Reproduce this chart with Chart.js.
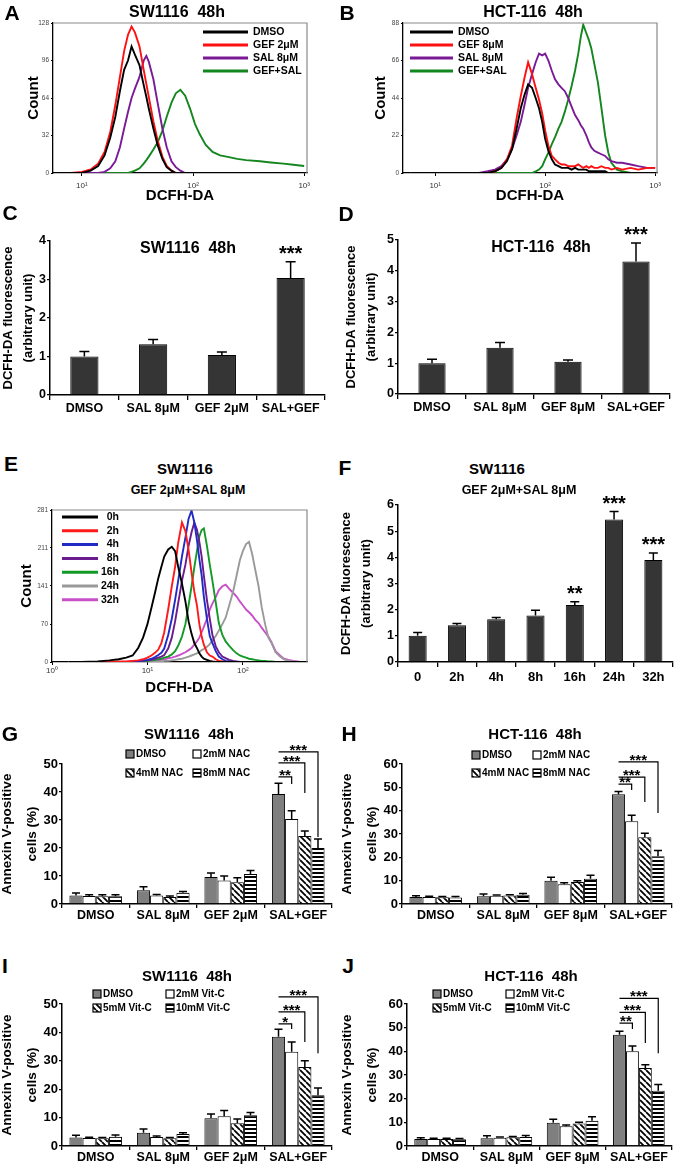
<!DOCTYPE html>
<html>
<head>
<meta charset="utf-8">
<script src="https://cdn.jsdelivr.net/npm/chart.js@4.4.1/dist/chart.umd.min.js"></script>
<style>
  body { margin: 0; background: #fff; }
  #fig { position: relative; width: 680px; height: 1168px; overflow: hidden; font-family: "Liberation Sans", Arial, sans-serif; }
  #fig canvas { position: absolute; }
  .lbl { position: absolute; transform: translate(-50%, -50%); font-weight: bold; white-space: pre; color: #000; line-height: 1; }
</style>
</head>
<body>
<div id="fig">
  <canvas id="cA" width="340" height="195" style="left:0;top:15px"></canvas>
  <canvas id="cB" width="340" height="195" style="left:340px;top:15px"></canvas>
  <canvas id="cC" width="340" height="205" style="left:0;top:215px"></canvas>
  <canvas id="cD" width="340" height="205" style="left:340px;top:215px"></canvas>
  <canvas id="cE" width="340" height="200" style="left:0;top:500px"></canvas>
  <canvas id="cF" width="340" height="202" style="left:340px;top:488px"></canvas>
  <canvas id="cG" width="340" height="202" style="left:0;top:728px"></canvas>
  <canvas id="cH" width="340" height="202" style="left:340px;top:728px"></canvas>
  <canvas id="cI" width="340" height="188" style="left:0;top:980px"></canvas>
  <canvas id="cJ" width="340" height="188" style="left:340px;top:980px"></canvas>

  <div class="lbl" style="left:12px;top:12px;font-size:21px">A</div>
  <div class="lbl" style="left:347px;top:12px;font-size:21px">B</div>
  <div class="lbl" style="left:10px;top:212px;font-size:21px">C</div>
  <div class="lbl" style="left:346px;top:213px;font-size:21px">D</div>
  <div class="lbl" style="left:11px;top:463px;font-size:21px">E</div>
  <div class="lbl" style="left:345px;top:467px;font-size:21px">F</div>
  <div class="lbl" style="left:10px;top:733px;font-size:21px">G</div>
  <div class="lbl" style="left:349px;top:733px;font-size:21px">H</div>
  <div class="lbl" style="left:5px;top:965px;font-size:21px">I</div>
  <div class="lbl" style="left:348px;top:965px;font-size:21px">J</div>

  <div class="lbl" style="left:177px;top:12px;font-size:16px">SW1116  48h</div>
  <div class="lbl" style="left:533px;top:12px;font-size:16px">HCT-116  48h</div>
  <div class="lbl" style="left:188px;top:248px;font-size:16px">SW1116  48h</div>
  <div class="lbl" style="left:541px;top:247px;font-size:16px">HCT-116  48h</div>
  <div class="lbl" style="left:185px;top:468px;font-size:15px">SW1116</div>
  <div class="lbl" style="left:188px;top:490px;font-size:12.5px">GEF 2μM+SAL 8μM</div>
  <div class="lbl" style="left:497px;top:468px;font-size:15px">SW1116</div>
  <div class="lbl" style="left:519px;top:490px;font-size:12.5px">GEF 2μM+SAL 8μM</div>
  <div class="lbl" style="left:189px;top:733px;font-size:15px">SW1116  48h</div>
  <div class="lbl" style="left:535px;top:733px;font-size:15px">HCT-116  48h</div>
  <div class="lbl" style="left:187px;top:975px;font-size:15px">SW1116  48h</div>
  <div class="lbl" style="left:531px;top:975px;font-size:15px">HCT-116  48h</div>
</div>

<script>
// ---------- data ----------
const groupsSW = ['DMSO', 'SAL 8μM', 'GEF 2μM', 'SAL+GEF'];
const groupsHCT = ['DMSO', 'SAL 8μM', 'GEF 8μM', 'SAL+GEF'];
const timeLabels = ['0', '2h', '4h', '8h', '16h', '24h', '32h'];

// A: SW1116 histogram
const namesA = ['DMSO', 'GEF 2μM', 'SAL 8μM', 'GEF+SAL'];
const channelsA = [6, 8, 10, 12, 14, 16, 18, 20, 22, 24, 26, 28, 30, 33, 36, 38, 40, 44, 48, 53, 58, 64, 70, 77, 85, 94, 104, 115, 130, 150, 175, 200, 250, 300, 400, 500, 650, 800, 1000];
const dmsoA = [0, 0, 0, 2, 6, 15, 30, 48, 70, 88, 96, 108, 101, 92, 75, 65, 55, 38, 24, 12, 5, 2, 0, 0, 0, 0, 0, 0, 0, 0, 0, 0, 0, 0, 0, 0, 0, 0, 0];
const gefA = [0, 0, 1, 3, 8, 18, 35, 58, 82, 104, 118, 125, 120, 108, 88, 76, 65, 44, 28, 14, 6, 2, 0, 0, 0, 0, 0, 0, 0, 0, 0, 0, 0, 0, 0, 0, 0, 0, 0];
const salA = [0, 0, 0, 0, 0, 1, 4, 10, 22, 38, 52, 64, 72, 82, 96, 100, 95, 80, 60, 38, 22, 10, 5, 2, 0, 0, 0, 0, 0, 0, 0, 0, 0, 0, 0, 0, 0, 0, 0];
const comboA = [0, 0, 0, 0, 0, 0, 0, 0, 0, 0, 0, 1, 2, 4, 8, 11, 14, 20, 26, 36, 48, 60, 68, 71, 66, 55, 42, 33, 24, 18, 15, 14, 12, 11, 10, 9, 8, 7, 6];
const yTicksA = [0, 32, 64, 96, 128];

// B: HCT-116 histogram
const namesB = ['DMSO', 'GEF 8μM', 'SAL 8μM', 'GEF+SAL'];
const channelsB = [6, 10, 15, 20, 25, 30, 35, 40, 45, 50, 55, 60, 65, 70, 76, 82, 88, 94, 100, 107, 115, 123, 132, 141, 151, 162, 174, 187, 200, 211, 222, 237, 250, 263, 280, 302, 325, 351, 375, 400, 450, 500, 600, 700, 850, 1000];
const dmsoB = [0, 0, 0, 0, 0, 0, 1, 3, 7, 14, 26, 38, 46, 52, 50, 44, 38, 30, 20, 13, 8, 5, 4, 3, 3, 3, 2, 3, 2, 2, 2, 2, 1, 1, 1, 1, 1, 1, 0, 0, 0, 0, 0, 0, 0, 0];
const gefB = [0, 0, 0, 0, 0, 0, 1, 3, 8, 16, 32, 45, 56, 65, 58, 50, 43, 35, 25, 16, 10, 8, 6, 5, 5, 4, 4, 4, 5, 4, 3, 4, 3, 4, 3, 3, 4, 3, 3, 2, 3, 2, 3, 2, 3, 3];
const salB = [0, 0, 0, 0, 0, 1, 2, 4, 8, 14, 22, 30, 40, 50, 58, 65, 70, 69, 70, 66, 60, 55, 52, 50, 48, 44, 39, 34, 31, 28, 26, 22, 18, 15, 13, 12, 11, 10, 8, 7, 6, 6, 5, 4, 3, 3];
const comboB = [0, 0, 0, 0, 0, 0, 0, 0, 0, 0, 0, 0, 0, 0, 0, 1, 2, 4, 8, 12, 17, 21, 26, 30, 36, 43, 51, 60, 70, 80, 87, 82, 78, 73, 64, 53, 38, 22, 12, 6, 2, 1, 0, 0, 0, 0];
const yTicksB = [0, 22, 44, 66, 88];

// E: SW1116 time course histogram
const namesE = ['0h', '2h', '4h', '8h', '16h', '24h', '32h'];
const channelsE = [1.5, 2, 3, 4, 5, 6, 7, 8, 9, 10, 11, 12, 13, 14, 15, 16.5, 18, 19.5, 21, 23, 25, 27, 29, 31, 33, 35, 37, 39, 42, 45, 48, 52, 56, 61, 66, 72, 79, 86, 93, 100, 108, 116, 125, 135, 146, 158, 171, 185, 200, 220, 245, 270, 300, 340, 400, 470];
const h0 = [0, 0, 1, 3, 5, 8, 12, 26, 45, 70, 100, 128, 155, 176, 195, 208, 213, 205, 176, 145, 112, 75, 52, 35, 26, 16, 10, 6, 4, 2, 1, 0, 0, 0, 0, 0, 0, 0, 0, 0, 0, 0, 0, 0, 0, 0, 0, 0, 0, 0, 0, 0, 0, 0, 0, 0];
const h2 = [0, 0, 0, 0, 1, 1, 2, 3, 5, 8, 12, 17, 23, 35, 55, 97, 140, 176, 220, 258, 242, 207, 165, 130, 105, 70, 47, 32, 18, 12, 10, 5, 2, 1, 0, 0, 0, 0, 0, 0, 0, 0, 0, 0, 0, 0, 0, 0, 0, 0, 0, 0, 0, 0, 0, 0];
const h4 = [0, 0, 0, 0, 0, 0, 1, 2, 3, 4, 6, 9, 13, 17, 25, 50, 80, 115, 150, 195, 230, 265, 280, 258, 226, 190, 160, 121, 80, 48, 35, 20, 10, 5, 2, 1, 0, 0, 0, 0, 0, 0, 0, 0, 0, 0, 0, 0, 0, 0, 0, 0, 0, 0, 0, 0];
const h8 = [0, 0, 0, 0, 0, 0, 0, 1, 2, 3, 4, 6, 8, 10, 13, 25, 45, 75, 109, 150, 180, 215, 240, 258, 245, 222, 195, 160, 115, 80, 50, 29, 18, 10, 7, 4, 2, 1, 0, 0, 0, 0, 0, 0, 0, 0, 0, 0, 0, 0, 0, 0, 0, 0, 0, 0];
const h16 = [0, 0, 0, 0, 0, 0, 0, 1, 1, 2, 3, 4, 5, 6, 8, 10, 14, 20, 30, 47, 70, 105, 140, 175, 205, 232, 244, 247, 215, 180, 150, 110, 72, 50, 38, 30, 22, 16, 12, 10, 8, 6, 5, 4, 3, 2, 2, 1, 1, 0, 0, 0, 0, 0, 0, 0];
const h24 = [0, 0, 0, 0, 0, 0, 0, 0, 0, 0, 0, 0, 1, 1, 2, 2, 3, 4, 5, 6, 8, 10, 12, 14, 16, 18, 22, 24, 28, 33, 40, 48, 58, 70, 82, 105, 130, 160, 188, 205, 218, 222, 200, 170, 140, 100, 70, 45, 35, 18, 10, 5, 2, 1, 0, 0];
const h32 = [0, 0, 0, 0, 0, 0, 0, 0, 1, 1, 2, 2, 3, 4, 5, 7, 8, 10, 12, 15, 18, 22, 26, 32, 38, 45, 55, 65, 80, 97, 108, 120, 133, 140, 143, 135, 128, 121, 112, 105, 97, 92, 86, 78, 72, 63, 55, 47, 36, 20, 12, 6, 4, 2, 0, 0];
const yTicksE = [0, 70, 141, 211, 281];

// C, D, F: DCFH-DA fluorescence (arbitrary unit)
const rosC = [1.0, 1.32, 1.04, 3.04];
const rosCErr = [0.13, 0.12, 0.08, 0.42];
const rosCStars = ['', '', '', '***'];
const rosD = [1.0, 1.5, 1.05, 4.3];
const rosDErr = [0.13, 0.17, 0.05, 0.6];
const rosDStars = ['', '', '', '***'];
const rosF = [1.0, 1.4, 1.63, 1.78, 2.18, 5.45, 3.9];
const rosFErr = [0.13, 0.07, 0.07, 0.2, 0.12, 0.3, 0.27];
const rosFStars = ['', '', '', '', '**', '***', '***'];

// G, H: Annexin V-positive cells (%) with NAC
const nacNames = ['DMSO', '2mM NAC', '4mM NAC', '8mM NAC'];
const gDmso = [3.0, 4.9, 9.6, 39.3];
const gDmsoErr = [0.9, 1.3, 1.5, 3.8];
const gNac2 = [2.9, 3.0, 8.4, 30.4];
const gNac2Err = [0.4, 0.4, 1.6, 2.9];
const gNac4 = [2.8, 2.5, 7.8, 24.3];
const gNac4Err = [0.5, 0.4, 1.6, 1.8];
const gNac8 = [2.8, 4.0, 10.7, 20.0];
const gNac8Err = [0.5, 0.5, 1.3, 3.2];

const hDmso = [3.0, 3.3, 10.0, 47.0];
const hDmsoErr = [0.5, 1.0, 1.5, 1.2];
const hNac2 = [3.0, 3.5, 8.5, 35.5];
const hNac2Err = [0.3, 0.4, 0.6, 2.5];
const hNac4 = [2.9, 3.6, 9.4, 28.6];
const hNac4Err = [0.3, 0.4, 0.6, 1.7];
const hNac8 = [2.8, 4.0, 10.8, 20.5];
const hNac8Err = [0.4, 0.5, 1.5, 2.4];

// I, J: Annexin V-positive cells (%) with vitamin C
const vitNames = ['DMSO', '2mM Vit-C', '5mM Vit-C', '10mM Vit-C'];
const iDmso = [3.0, 4.7, 9.8, 38.5];
const iDmsoErr = [0.8, 1.3, 1.5, 2.6];
const iVc2 = [2.8, 3.2, 10.5, 33.2];
const iVc2Err = [0.3, 0.3, 2.0, 3.4];
const iVc5 = [2.7, 2.7, 8.0, 27.8];
const iVc5Err = [0.3, 0.3, 1.5, 2.2];
const iVc10 = [3.3, 4.2, 10.8, 17.9];
const iVc10Err = [0.6, 0.5, 1.0, 2.5];

const jDmso = [3.0, 3.3, 9.8, 47.0];
const jDmsoErr = [0.5, 1.0, 1.5, 1.5];
const jVc2 = [3.0, 3.5, 8.3, 40.0];
const jVc2Err = [0.3, 0.3, 0.6, 2.3];
const jVc5 = [3.0, 3.7, 9.5, 33.0];
const jVc5Err = [0.3, 0.3, 0.5, 1.3];
const jVc10 = [2.8, 3.8, 10.7, 23.3];
const jVc10Err = [0.4, 0.6, 1.7, 2.7];

// ---------- setup ----------
const FONT = '"Liberation Sans", Arial, sans-serif';
Chart.defaults.font.family = FONT;
Chart.defaults.color = '#000';
Chart.defaults.animation = false;
Chart.defaults.plugins.legend.display = false;
Chart.defaults.plugins.tooltip.enabled = false;

const supDigits = ['⁰', '¹', '²', '³'];

function hatch(kind) {
  const c = document.createElement('canvas');
  c.width = 6;
  c.height = kind === 'diag' ? 6 : 4;
  const g = c.getContext('2d');
  g.fillStyle = '#fff';
  g.fillRect(0, 0, c.width, c.height);
  g.fillStyle = '#000';
  g.strokeStyle = '#000';
  if (kind === 'diag') {
    g.lineWidth = 1.8;
    g.beginPath();
    for (let k = -6; k <= 6; k += 6) { g.moveTo(k, 0); g.lineTo(k + 6, 6); }
    g.stroke();
  } else {
    g.fillRect(0, 0, 6, 2);
  }
  return g.createPattern(c, 'repeat');
}
const diagFill = hatch('diag');
const stripeFill = hatch('stripe');

// ---------- plugins ----------
const errorBars = {
  id: 'errorBars',
  afterDatasetsDraw(chart, args, opts) {
    const ctx = chart.ctx;
    const yScale = chart.scales.y;
    chart.data.datasets.forEach((ds, i) => {
      if (!ds.errors) return;
      chart.getDatasetMeta(i).data.forEach((bar, j) => {
        const top = yScale.getPixelForValue(ds.data[j] + ds.errors[j]);
        ctx.save();
        ctx.strokeStyle = '#000';
        ctx.lineWidth = 1.5;
        ctx.beginPath();
        ctx.moveTo(bar.x, bar.y);
        ctx.lineTo(bar.x, top);
        ctx.moveTo(bar.x - opts.cap / 2, top);
        ctx.lineTo(bar.x + opts.cap / 2, top);
        ctx.stroke();
        if (ds.stars && ds.stars[j]) {
          ctx.fillStyle = '#000';
          ctx.font = 'bold 20px ' + FONT;
          ctx.textAlign = 'center';
          ctx.textBaseline = 'alphabetic';
          ctx.fillText(ds.stars[j], bar.x, top - 2);
        }
        ctx.restore();
      });
    });
  }
};

const brackets = {
  id: 'brackets',
  afterDatasetsDraw(chart, args, opts) {
    if (!opts.items) return;
    const ctx = chart.ctx;
    const yScale = chart.scales.y;
    const x0 = chart.getDatasetMeta(0).data[opts.group].x;
    opts.items.forEach(b => {
      const x1 = chart.getDatasetMeta(b.to).data[opts.group].x;
      const yt = yScale.getPixelForValue(b.top);
      const yb = yScale.getPixelForValue(b.bottom);
      ctx.save();
      ctx.strokeStyle = '#000';
      ctx.lineWidth = 1.2;
      ctx.beginPath();
      ctx.moveTo(x0, yt);
      ctx.lineTo(x1, yt);
      ctx.lineTo(x1, yb);
      ctx.stroke();
      ctx.fillStyle = '#000';
      ctx.font = 'bold 15px ' + FONT;
      ctx.textAlign = 'center';
      ctx.textBaseline = 'alphabetic';
      ctx.fillText(b.text, (x0 + x1) / 2, yt + 3);
      ctx.restore();
    });
  }
};

const boxLegend = {
  id: 'boxLegend',
  afterDraw(chart, args, o) {
    const ctx = chart.ctx;
    chart.data.datasets.forEach((ds, i) => {
      const x = o.cols[i % 2];
      const y = o.rows[Math.floor(i / 2)];
      ctx.save();
      ctx.fillStyle = ds.backgroundColor;
      ctx.fillRect(x - 4, y - 4, 8, 8);
      ctx.strokeStyle = '#000';
      ctx.lineWidth = 1.2;
      ctx.strokeRect(x - 4, y - 4, 8, 8);
      ctx.fillStyle = '#000';
      ctx.font = 'bold 10px ' + FONT;
      ctx.textAlign = 'left';
      ctx.textBaseline = 'middle';
      ctx.fillText(ds.label, x + 6, y);
      ctx.restore();
    });
  }
};

const lineLegend = {
  id: 'lineLegend',
  afterDraw(chart, args, o) {
    const ctx = chart.ctx;
    chart.data.datasets.forEach((ds, i) => {
      const y = o.y + i * o.row;
      ctx.save();
      ctx.strokeStyle = ds.borderColor;
      ctx.lineWidth = 3;
      ctx.beginPath();
      ctx.moveTo(o.x0, y);
      ctx.lineTo(o.x1, y);
      ctx.stroke();
      ctx.fillStyle = '#000';
      ctx.font = 'bold 10.5px ' + FONT;
      ctx.textAlign = o.align;
      ctx.textBaseline = 'middle';
      ctx.fillText(ds.label, o.tx, y);
      ctx.restore();
    });
  }
};

const frame = {
  id: 'frame',
  afterDraw(chart) {
    const { left, top, right, bottom } = chart.chartArea;
    const ctx = chart.ctx;
    ctx.save();
    ctx.strokeStyle = '#8a8a8a';
    ctx.lineWidth = 1.2;
    ctx.beginPath();
    ctx.moveTo(left, top);
    ctx.lineTo(right, top);
    ctx.lineTo(right, bottom);
    ctx.stroke();
    ctx.restore();
  }
};

// ---------- chart builders ----------
function histogram(id, lay) {
  new Chart(document.getElementById(id), {
    type: 'line',
    data: {
      datasets: lay.series.map((ys, k) => ({
        label: lay.names[k],
        data: lay.channels.map((x, i) => ({ x: x, y: ys[i] })),
        borderColor: lay.colors[k],
        borderWidth: 1.9,
        pointRadius: 0,
        tension: 0
      }))
    },
    options: {
      responsive: false,
      layout: { padding: { left: 0, top: lay.top, right: lay.right, bottom: 0 } },
      scales: {
        x: {
          type: 'logarithmic',
          min: lay.xMin,
          max: lay.xMax,
          afterBuildTicks: s => { s.ticks = lay.xTicks.map(v => ({ value: v })); },
          ticks: {
            callback: v => '10' + supDigits[Math.round(Math.log10(v))],
            font: { size: 8 }, color: '#333', padding: lay.xtPad, maxRotation: 0
          },
          grid: { drawOnChartArea: false, tickLength: 3, color: '#000' },
          border: { color: '#000', width: 1.3 },
          title: { display: true, text: 'DCFH-DA', font: { size: 15, weight: 'bold' }, padding: { top: 0, bottom: lay.xTitlePad } },
          afterFit: s => { s.height = lay.hx; }
        },
        y: {
          min: 0,
          max: lay.yTicks[lay.yTicks.length - 1],
          afterBuildTicks: s => { s.ticks = lay.yTicks.map(v => ({ value: v })); },
          ticks: { font: { size: 6.5 }, color: '#444', padding: 2 },
          grid: { drawOnChartArea: false, tickLength: 2, color: '#000' },
          border: { color: '#000', width: 1.3 },
          title: { display: true, text: 'Count', font: { size: 15, weight: 'bold' }, padding: { top: lay.yTitlePad, bottom: 0 } },
          afterFit: s => { s.width = lay.wy; }
        }
      },
      plugins: { lineLegend: lay.legend }
    },
    plugins: [frame, lineLegend]
  });
}

function barScales(o) {
  return {
    x: {
      grid: { drawOnChartArea: false, tickLength: o.tick, color: '#000', lineWidth: 1.3 },
      border: { color: '#000', width: 1.5 },
      ticks: { font: { size: o.xFont, weight: 'bold' }, color: '#000', padding: o.xPad, maxRotation: 0, autoSkip: false },
      afterFit: s => { s.height = o.hx; }
    },
    y: {
      min: 0,
      max: o.yMax,
      ticks: { stepSize: o.yStep, font: { size: o.yFont, weight: 'bold' }, color: '#000', padding: 1 },
      grid: { drawOnChartArea: false, tickLength: 3, color: '#000', lineWidth: 1.3 },
      border: { color: '#000', width: 1.5 },
      title: {
        display: true, text: o.yTitle,
        font: { size: o.titleSize, weight: 'bold', lineHeight: o.titleLH },
        padding: { top: o.titlePad, bottom: 0 }
      },
      afterFit: s => { s.width = o.wy; }
    }
  };
}

function rosBars(id, labels, values, errors, stars, barPct, o) {
  new Chart(document.getElementById(id), {
    type: 'bar',
    data: {
      labels: labels,
      datasets: [{
        data: values, errors: errors, stars: stars,
        backgroundColor: '#353535', borderColor: '#000', borderWidth: 1,
        barPercentage: barPct, categoryPercentage: 1
      }]
    },
    options: {
      responsive: false,
      layout: { padding: { left: 0, top: o.top, right: o.right, bottom: 0 } },
      scales: barScales(Object.assign({
        yTitle: ['DCFH-DA fluorescence', '(arbitrary unit)'],
        titleSize: 13, titleLH: 1.5, yFont: 12.5, yStep: 1, tick: 5
      }, o)),
      plugins: { errorBars: { cap: o.cap } }
    },
    plugins: [errorBars]
  });
}

function annexinBars(id, labels, names, series, errs, bracketItems, o) {
  const fills = ['#7f7f7f', '#ffffff', diagFill, stripeFill];
  new Chart(document.getElementById(id), {
    type: 'bar',
    data: {
      labels: labels,
      datasets: series.map((vals, k) => ({
        label: names[k], data: vals, errors: errs[k],
        backgroundColor: fills[k], borderColor: '#000', borderWidth: 1,
        barPercentage: 1, categoryPercentage: 0.78
      }))
    },
    options: {
      responsive: false,
      layout: { padding: { left: 0, top: o.top, right: o.right, bottom: 0 } },
      scales: barScales(Object.assign({
        yTitle: ['Annexin V-positive', 'cells (%)'],
        titleSize: 13.5, titleLH: 1.9, titlePad: -6, yFont: 13, yStep: 10, tick: 4, xFont: 12.5, xPad: 0
      }, o)),
      plugins: {
        errorBars: { cap: 8 },
        brackets: { group: 3, items: bracketItems },
        boxLegend: { cols: o.cols, rows: o.rows }
      }
    },
    plugins: [errorBars, brackets, boxLegend]
  });
}

// ---------- panels ----------
histogram('cA', {
  channels: channelsA, series: [dmsoA, gefA, salA, comboA], names: namesA,
  colors: ['#000000', '#ff1010', '#7a1a96', '#13861e'],
  xMin: 5.5, xMax: 1060, xTicks: [10, 100, 1000], yTicks: yTicksA,
  top: 8, right: 33, wy: 53, hx: 37, xtPad: 5, xTitlePad: 5, yTitlePad: 25,
  legend: { x0: 203, x1: 248, tx: 253, align: 'left', y: 17, row: 13 }
});

histogram('cB', {
  channels: channelsB, series: [dmsoB, gefB, salB, comboB], names: namesB,
  colors: ['#000000', '#ff1010', '#7a1a96', '#13861e'],
  xMin: 5.1, xMax: 1040, xTicks: [10, 100, 1000], yTicks: yTicksB,
  top: 8, right: 23, wy: 63, hx: 37, xtPad: 5, xTitlePad: 5, yTitlePad: 32,
  legend: { x0: 70, x1: 113, tx: 118, align: 'left', y: 17, row: 13 }
});

histogram('cE', {
  channels: channelsE, series: [h0, h2, h4, h8, h16, h24, h32], names: namesE,
  colors: ['#000000', '#ff1a1a', '#1f2bc4', '#6a1b8f', '#139a26', '#9a9a9a', '#c94fc9'],
  xMin: 1, xMax: 470, xTicks: [1, 10, 100], yTicks: yTicksE,
  top: 10, right: 33, wy: 52, hx: 38, xtPad: 1, xTitlePad: 3, yTitlePad: 18,
  legend: { x0: 62, x1: 98, tx: 119, align: 'right', y: 17, row: 13.8 }
});

rosBars('cC', groupsSW, rosC, rosCErr, rosCStars, 0.41,
  { top: 26, right: 15, wy: 50, hx: 25, yMax: 4, xFont: 12.5, xPad: 1, titlePad: -1, cap: 10 });

rosBars('cD', groupsHCT, rosD, rosDErr, rosDStars, 0.4,
  { top: 25, right: 10, wy: 58, hx: 26, yMax: 5, xFont: 12.5, xPad: 1, titlePad: 2, cap: 10 });

rosBars('cF', timeLabels, rosF, rosFErr, rosFStars, 0.46,
  { top: 17, right: 7, wy: 58, hx: 28, yMax: 6, xFont: 13, xPad: 3, titlePad: -3, cap: 9 });

annexinBars('cG', groupsSW, nacNames, [gDmso, gNac2, gNac4, gNac8], [gDmsoErr, gNac2Err, gNac4Err, gNac8Err],
  [{ to: 3, top: 54.3, bottom: 23.9, text: '***' },
   { to: 2, top: 50.4, bottom: 39.6, text: '***' },
   { to: 1, top: 45.4, bottom: 42.9, text: '**' }],
  { top: 36, right: 8, wy: 62, hx: 26, yMax: 50, cols: [130, 197], rows: [26, 45] });

annexinBars('cH', groupsHCT, nacNames, [hDmso, hNac2, hNac4, hNac8], [hDmsoErr, hNac2Err, hNac4Err, hNac8Err],
  [{ to: 3, top: 60.9, bottom: 39, text: '***' },
   { to: 2, top: 54.4, bottom: 43.7, text: '***' },
   { to: 1, top: 51.4, bottom: 48.9, text: '**' }],
  { top: 36, right: 8, wy: 62, hx: 26, yMax: 60, cols: [136, 197], rows: [27, 45] });

annexinBars('cI', groupsSW, vitNames, [iDmso, iVc2, iVc5, iVc10], [iDmsoErr, iVc2Err, iVc5Err, iVc10Err],
  [{ to: 3, top: 52.5, bottom: 32.7, text: '***' },
   { to: 2, top: 47.2, bottom: 36.6, text: '***' },
   { to: 1, top: 43, bottom: 41.2, text: '*' }],
  { top: 24, right: 8, wy: 62, hx: 22, yMax: 50, cols: [97, 170], rows: [14, 28] });

annexinBars('cJ', groupsHCT, vitNames, [jDmso, jVc2, jVc5, jVc10], [jDmsoErr, jVc2Err, jVc5Err, jVc10Err],
  [{ to: 3, top: 62.4, bottom: 39.2, text: '***' },
   { to: 2, top: 56.5, bottom: 43.5, text: '***' },
   { to: 1, top: 51.9, bottom: 49.4, text: '**' }],
  { top: 24, right: 8, wy: 67, hx: 22, yMax: 60, cols: [97, 170], rows: [14, 28] });
</script>
</body>
</html>
